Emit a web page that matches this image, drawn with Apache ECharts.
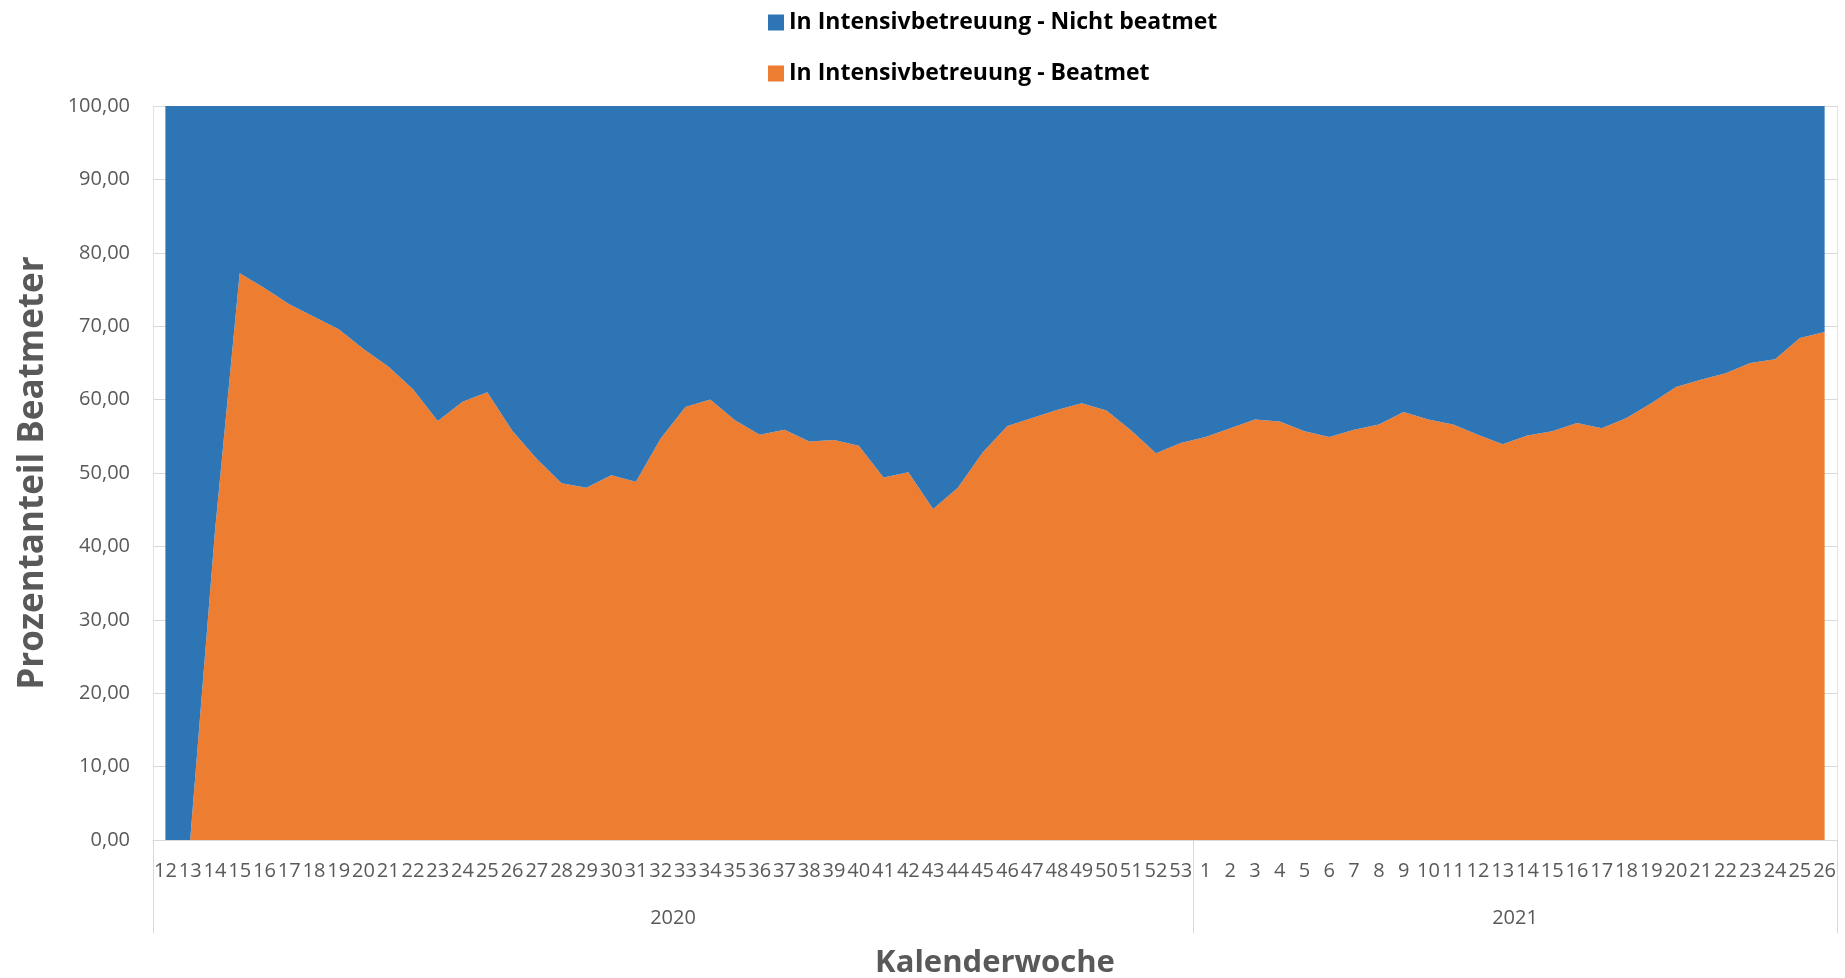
<!DOCTYPE html>
<html>

<head>
  <meta charset="utf-8">
  <script src="https://cdn.jsdelivr.net/npm/echarts@6/dist/echarts.min.js"></script>
</head>

<style>
  html, body {
    margin: 0;
    width: 100%;
    height: 100%;
    background: #fff;
  }
</style>

<body>
  <div id="main" style="width: 1845px;height:978px;"></div>

  <script>
    // Kalenderwochen
    var weeks2020 = ['12', '13', '14', '15', '16', '17', '18', '19', '20', '21', '22', '23', '24', '25', '26', '27',
      '28', '29', '30', '31', '32', '33', '34', '35', '36', '37', '38', '39', '40', '41', '42', '43', '44', '45',
      '46', '47', '48', '49', '50', '51', '52', '53'];
    var weeks2021 = ['1', '2', '3', '4', '5', '6', '7', '8', '9', '10', '11', '12', '13', '14', '15', '16', '17',
      '18', '19', '20', '21', '22', '23', '24', '25', '26'];
    var years = ['2020', '2021'];

    // Anteil in Prozent
    var beatmet = [0, 0, 42, 77.2, 75.2, 73.0, 71.3, 69.6, 66.9, 64.5, 61.4, 57.1, 59.7, 61.0, 55.8, 51.9,
      48.6, 48.0, 49.7, 48.8, 54.7, 59.0, 60.0, 57.2, 55.2, 55.9, 54.3, 54.5, 53.7, 49.4, 50.1, 45.1, 48.0, 52.8,
      56.4, 57.5, 58.6, 59.5, 58.5, 55.8, 52.7, 54.1,
      54.9, 56.1, 57.3, 57.0, 55.7, 54.9, 55.9, 56.6, 58.3, 57.3, 56.6, 55.2, 53.9, 55.1, 55.7, 56.8, 56.1,
      57.5, 59.5, 61.7, 62.7, 63.6, 65.0, 65.5, 68.4, 69.2];
    var nichtBeatmet = [100, 100, 58, 22.8, 24.8, 27.0, 28.7, 30.4, 33.1, 35.5, 38.6, 42.9, 40.3, 39.0, 44.2, 48.1,
      51.4, 52.0, 50.3, 51.2, 45.3, 41.0, 40.0, 42.8, 44.8, 44.1, 45.7, 45.5, 46.3, 50.6, 49.9, 54.9, 52.0, 47.2,
      43.6, 42.5, 41.4, 40.5, 41.5, 44.2, 47.3, 45.9,
      45.1, 43.9, 42.7, 43.0, 44.3, 45.1, 44.1, 43.4, 41.7, 42.7, 43.4, 44.8, 46.1, 44.9, 44.3, 43.2, 43.9,
      42.5, 40.5, 38.3, 37.3, 36.4, 35.0, 34.5, 31.6, 30.8];

    var categories = weeks2020.concat(weeks2021);
    var n2020 = weeks2020.length;
    var nAll = categories.length;

    var grey = '#595959';
    var font = 'Open Sans';

    var myChart = echarts.init(document.getElementById('main'));

    var option = {
      animation: false,
      color: ['#ED7D31', '#2E75B6'],
      legend: {
        orient: 'vertical',
        left: 763,
        top: 6,
        itemWidth: 16,
        itemHeight: 16,
        itemGap: 28,
        itemTextGap: 7,
        icon: 'rect',
        data: ['In Intensivbetreuung - Nicht beatmet', 'In Intensivbetreuung - Beatmet'],
        textStyle: {
          fontFamily: font,
          fontWeight: 'bold',
          fontSize: 23,
          lineHeight: 23,
          color: '#000'
        }
      },
      grid: {
        left: 153,
        right: 8,
        top: 106,
        bottom: 138,
        outerBoundsMode: 'none'
      },
      xAxis: [{
        type: 'category',
        data: categories,
        boundaryGap: true,
        name: 'Kalenderwoche',
        nameLocation: 'middle',
        nameGap: 108,
        nameTextStyle: {
          fontFamily: font,
          fontWeight: 'bold',
          fontSize: 31,
          color: grey
        },
        axisLine: { show: true, lineStyle: { color: '#d9d9d9', width: 1 } },
        axisTick: { show: false },
        axisLabel: {
          interval: 0,
          margin: 21,
          fontFamily: font,
          fontSize: 20,
          color: grey
        },
        z: 5
      }, {
        // Jahresebene
        type: 'value',
        position: 'bottom',
        min: 0,
        max: nAll,
        axisLine: { show: false },
        splitLine: { show: false },
        axisTick: {
          show: true,
          length: 93,
          customValues: [0, n2020, nAll],
          lineStyle: { color: '#d9d9d9' }
        },
        axisLabel: {
          margin: 68,
          customValues: [n2020 / 2, n2020 + (nAll - n2020) / 2],
          formatter: function (v) {
            return v < n2020 ? years[0] : years[1];
          },
          fontFamily: font,
          fontSize: 20,
          color: grey
        }
      }],
      yAxis: [{
        type: 'value',
        min: 0,
        max: 100,
        interval: 10,
        name: 'Prozentanteil Beatmeter',
        nameLocation: 'middle',
        nameGap: 102,
        nameTextStyle: {
          fontFamily: font,
          fontWeight: 'bold',
          fontSize: 35,
          color: grey
        },
        axisLine: { show: true, lineStyle: { color: '#dce3ef' } },
        axisTick: { show: false },
        splitLine: { lineStyle: { color: '#d9d9d9' } },
        axisLabel: {
          margin: 23,
          fontFamily: font,
          fontSize: 20,
          color: grey,
          formatter: function (v) {
            return v.toFixed(2).replace('.', ',');
          }
        }
      }, {
        type: 'value',
        position: 'right',
        min: 0,
        max: 100,
        axisLine: { show: true, lineStyle: { color: '#dce3ef' } },
        axisTick: { show: false },
        axisLabel: { show: false },
        splitLine: { show: false }
      }],
      series: [{
        name: 'In Intensivbetreuung - Beatmet',
        type: 'line',
        stack: 'total',
        data: beatmet,
        showSymbol: false,
        lineStyle: { width: 0 },
        areaStyle: { opacity: 1 }
      }, {
        name: 'In Intensivbetreuung - Nicht beatmet',
        type: 'line',
        stack: 'total',
        data: nichtBeatmet,
        showSymbol: false,
        lineStyle: { width: 0 },
        areaStyle: { opacity: 1 }
      }]
    };

    myChart.setOption(option);
  </script>
</body>

</html>
